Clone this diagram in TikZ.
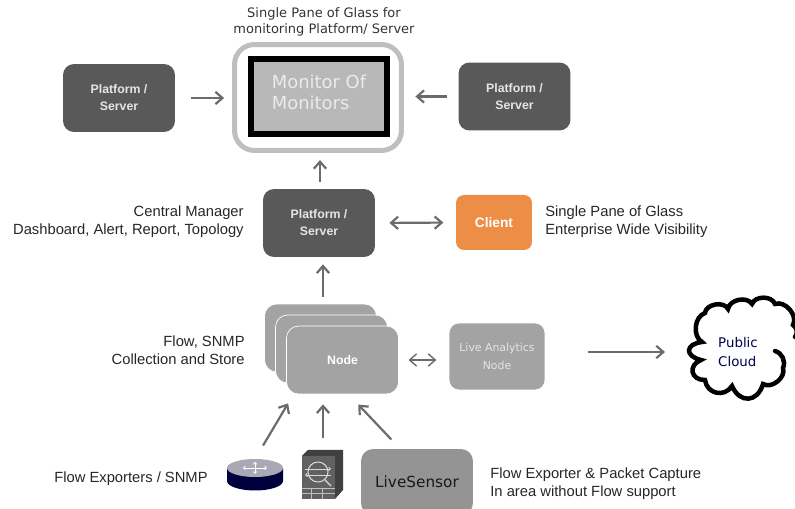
\documentclass[tikz,border=0pt]{standalone}
\usepackage{fontspec}
\setmainfont{Liberation Sans}
\newfontfamily\dejavu{DejaVu Sans}
\usepackage{pgf,tikz}
\usetikzlibrary{arrows.meta}

\definecolor{darkbox}{HTML}{595959}
\definecolor{midbox}{HTML}{A3A3A3}
\definecolor{arrowgray}{HTML}{6B6B6B}
\definecolor{clientbox}{HTML}{EC8E45}

\begin{document}
\begin{tikzpicture}[x=.02cm,y=-.02cm,>={Straight Barb[length=4pt,width=7pt]},
    platform/.style={fill=darkbox,rounded corners=.22cm,minimum width=2.24cm,minimum height=1.36cm,inner sep=0pt,align=center,text=white!90!black,font=\fontsize{7}{9.6}\selectfont\bfseries},
    grayblock/.style={fill=midbox,draw=white,line width=.4pt,rounded corners=.24cm,minimum width=2.24cm,minimum height=1.36cm,inner sep=0pt,align=center},
    note/.style={inner sep=0pt,font=\fontsize{8.4}{10.2}\selectfont,text=black!85},
    flow/.style={->,draw=arrowgray,line width=1.25pt}]
  \useasboundingbox (0,0) rectangle (795,509);

  % top row
  \node (monitor_frame) [draw=black!25,line width=.1cm,rounded corners=.4cm,minimum width=3.34cm,minimum height=2.12cm,inner sep=0pt] at (318,97.5) {};
  \node (monitor) [draw=black,fill=black!28,line width=.12cm,minimum width=2.72cm,minimum height=1.5cm,inner sep=0pt,text=white!92!black,align=left,text depth=5pt,font=\dejavu\fontsize{10.2}{12}\selectfont] at (319,96.5) {Monitor Of\\Monitors};
  \node (platform_left) [platform] at (119,98) {Platform /\\Server};
  \node (platform_right) [platform] at (514.5,96.5) {Platform /\\Server};
  \node (pane_label) [inner sep=0pt,align=center,text=black!80,font=\dejavu\fontsize{7.4}{9}\selectfont] at (324,22) {Single Pane of Glass for\\monitoring Platform/ Server};

  % central manager row
  \node (platform_mid) [platform] at (319,223) {Platform /\\Server};
  \node (client) [fill=clientbox,rounded corners=.16cm,minimum width=1.52cm,minimum height=1.1cm,inner sep=0pt,text=white,font=\fontsize{7.8}{9}\selectfont\bfseries] at (494,222.5) {Client};
  \node (manager_label) [note,anchor=east,align=right] at (244,222) {Central Manager\\Dashboard, Alert, Report, Topology};
  \node (client_label) [note,anchor=west,align=left] at (545,222) {Single Pane of Glass\\Enterprise Wide Visibility};

  % collector row
  \node (node_back) [grayblock] at (320.5,338) {};
  \node (node_mid) [grayblock] at (331.5,349) {};
  \node (node_front) [grayblock,text=white,font=\fontsize{7}{8}\selectfont\bfseries] at (342.5,360) {Node};
  \node (live_analytics) [grayblock,minimum width=1.92cm,minimum height=1.34cm,rounded corners=.2cm,text=white!90!black,font=\dejavu\fontsize{6.2}{10}\selectfont] at (497,356.5) {Live Analytics\\Node};
  \node (collect_label) [note,anchor=east,align=right] at (245,350) {Flow, SNMP\\Collection and Store};

  % cloud
  \node (cloud_text) [inner sep=0pt,align=left,text=black!70!blue,font=\dejavu\fontsize{7.6}{10.6}\selectfont] at (738,352) {Public\\Cloud};
  \draw[line width=.09cm,line cap=round] (795,337) to[bend right=50] (793,325) to[bend right=70] (775,304) to[bend right=70] (752,304) to[bend right=70] (728,309) to[bend right=75] (705,313) to[bend right=65] (702,342)
    to[bend right=80,looseness=2.4] (701,360) to[bend right=80,looseness=1.8] (705,380) to[bend right=70,looseness=1.3] (732,386) to[bend right=70,looseness=1.6] (763,384) to[bend right=70] (783,368) to[bend right=50] (775,351);

  % exporters
  \node (router) [minimum width=1.14cm,minimum height=.62cm,inner sep=0pt] at (255,475) {};
  \fill[black!65!blue!70!black] (227,468) -- (227,481) arc (180:0:28 and 9.5) -- (283,468) -- cycle;
  \fill[black!42!blue!12!white!75!black] (255,468) ellipse (28 and 9);
  \draw[white,line width=.5pt,<->,>={Straight Barb[length=1pt,width=2pt]}] (243,468) -- (267,468);
  \draw[white,line width=.5pt,<->,>={Straight Barb[length=1pt,width=2pt]}] (255,462) -- (255,474);
  \node (firewall) [minimum width=.82cm,minimum height=.98cm,inner sep=0pt] at (323,475) {};
  \fill[black!75] (302,456) -- (308,450) -- (343,450) -- (343,490) -- (335,499) -- (302,499) -- cycle;
  \fill[black!62] (302,456) -- (335,456) -- (335,499) -- (302,499) -- cycle;
  \draw[white!85!black,line width=.6pt] (318,472) circle (10);
  \draw[white!85!black,line width=.5pt,->,>={Straight Barb[length=1pt,width=2pt]}] (305,469) -- (331,469);
  \draw[white!85!black,line width=.5pt,<-,>={Straight Barb[length=1pt,width=2pt]}] (305,475) -- (331,475);
  \draw[white!85!black,line width=.8pt] (325,480) -- (331,486);
  \draw[black!25,line width=.4pt] (302,488) -- (335,488) (302,493) -- (335,493) (311,488) -- (311,499) (322,488) -- (322,499);
  \node (live_sensor) [fill=black!42,rounded corners=.24cm,minimum width=2.24cm,minimum height=1.32cm,inner sep=0pt,text=black!90,font=\dejavu\fontsize{8.7}{10}\selectfont] at (417,482) {LiveSensor};
  \node (exporter_label) [note,anchor=east] at (208,479) {Flow Exporters / SNMP};
  \node (capture_label) [note,anchor=west,align=left] at (490,484) {Flow Exporter \& Packet Capture\\In area without Flow support};

  % connectors
  \draw[flow,shorten <=9pt,shorten >=4.5pt] (platform_left) -- (platform_left -| monitor_frame.west);
  \draw[flow,shorten <=6.5pt,shorten >=6.5pt] (platform_right.west) -- (platform_right.west -| monitor_frame.east);
  \draw[flow,shorten >=4pt] (platform_mid.north -| 320,0) ++(0,-7) -- (monitor_frame.south -| 320,0);
  \draw[flow,shorten <=4pt,shorten >=4pt] (node_back.north -| 323,0) -- (platform_mid.south -| 323,0);
  \draw[flow,<->,shorten <=8pt,shorten >=7pt] (platform_mid.east) -- (client.west);
  \draw[flow,<->,line width=.8pt,shorten <=5.5pt,shorten >=7pt] (node_front.east) -- (node_front.east -| live_analytics.west);
  \draw[flow,shorten <=24pt,shorten >=0pt] (live_analytics.east |- cloud_text) -- (cloud_text.west -| 665,0);
  \draw[flow,shorten <=9pt,shorten >=6pt] (router.north) -- (node_front.215);
  \draw[flow,shorten <=6.8pt,shorten >=5.7pt] (firewall.north) -- (firewall.north |- node_front.south);
  \draw[flow,shorten <=7.2pt,shorten >=8pt] (live_sensor.117) -- (node_front.280);
\end{tikzpicture}
\end{document}
